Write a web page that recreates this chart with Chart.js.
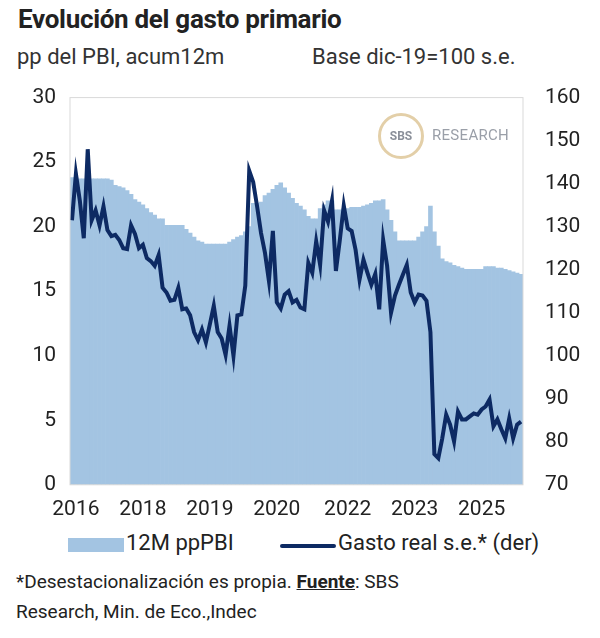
<!DOCTYPE html>
<html>
<head>
<meta charset="utf-8">
<script src="https://cdn.jsdelivr.net/npm/chart.js@4"></script>
<style>
  body { margin: 0; width: 600px; height: 638px; background: #fff; font-family: Roboto, sans-serif; color: #222; position: relative; overflow: hidden; }
  .title { position: absolute; left: 18px; top: 4px; font-size: 26px; font-weight: bold; letter-spacing: -0.3px; }
  .sub { position: absolute; top: 44px; font-size: 22px; color: #333; }
  #wrap { position: absolute; left: 0; top: 71px; width: 600px; height: 455px; }
  .legend { position: absolute; top: 530px; left: 0; width: 600px; font-size: 22px; color: #222; }
  .legend span { position: absolute; }
  .foot { position: absolute; left: 16px; top: 567px; font-size: 19px; line-height: 30px; color: #222; }
  .logo { position: absolute; left: 378px; top: 113px; width: 46px; height: 46px; border-radius: 50%; border: 3px solid #e3cfa8; box-sizing: border-box; text-align: center; line-height: 40px; font-size: 12px; font-weight: bold; color: #8a8f99; }
  .logo2 { position: absolute; left: 432px; top: 126px; font-size: 15px; color: #9a9fa8; letter-spacing: 0.3px; }
</style>
</head>
<body>
<div class="title">Evolución del gasto primario</div>
<div class="sub" style="left:17px">pp del PBI, acum12m</div>
<div class="sub" style="left:312px">Base dic-19=100 s.e.</div>
<div id="wrap"><canvas id="c"></canvas></div>
<div class="logo">SBS</div>
<div class="logo2">RESEARCH</div>
<div class="legend">
  <span style="left:68px;top:8px;width:56px;height:14px;background:#a3c4e2"></span>
  <span style="left:126px;top:0px">12M ppPBI</span>
  <span style="left:280px;top:14px;width:56px;height:4px;border-radius:2px;background:#0d2a63"></span>
  <span style="left:338px;top:0px">Gasto real s.e.* (der)</span>
</div>
<div class="foot">*Desestacionalización es propia. <b><u>Fuente</u></b>: SBS<br>Research, Min. de Eco.,Indec</div>
<script>
const gastoPBI = [
  23.8, 23.8, 23.7, 23.7, 23.7, 23.7, 23.7, 23.7, 23.7, 23.7, 23.6, 23.2, 23.1, 23.0,
  22.8, 22.5, 22.1, 21.9, 21.7, 21.4, 21.1, 20.9, 20.6, 20.6,
  20.1, 20.1, 20.1, 20.1, 20.1, 19.8, 19.5, 19.2, 18.9, 18.8,
  18.65, 18.65, 18.65, 18.65, 18.65, 18.65, 18.8, 19.0, 19.2, 19.3, 19.6, 20.0,
  21.8, 21.8, 21.9, 22.4, 22.6, 22.9, 23.2, 23.4, 23.0, 22.6, 22.2, 21.8, 21.6, 21.3,
  20.8, 20.6, 20.6, 21.4, 21.7, 22.0, 22.0,
  21.3, 21.3, 21.4, 21.4, 21.5, 21.5, 21.5, 21.6, 21.7, 21.8, 22.0, 22.0, 22.1,
  21.3, 20.5, 19.6, 18.9, 18.9, 18.9, 18.9, 18.9, 19.2, 19.6, 20.0, 21.6,
  19.6, 18.5, 17.5, 17.3, 17.2, 17.0, 16.9, 16.8,
  16.7, 16.7, 16.7, 16.7, 16.7, 16.9, 16.9, 16.9, 16.8, 16.8,
  16.7, 16.6, 16.5, 16.4, 16.3
];
const gastoReal = [
  131.5, 142.3, 136, 127.3, 148, 131.5, 133.8, 130.3, 134.7, 129.2, 127.8, 128.1, 126.9, 125,
  124.8, 130.3, 128.3, 125, 125.8, 122.7, 122, 120.9, 123.4, 115.8, 114.7, 112.8, 113, 115.8,
  110.8, 111, 109.4, 105.5, 103.6, 106.1, 103.1, 107.3, 111.6, 105.5, 104, 100.2, 107, 100,
  109.4, 109.6, 116.3, 143, 140.4, 134.7, 128.5, 123.9, 117.4, 129, 112.4, 111, 114.2, 115,
  112.4, 113, 111.2, 110.8, 121.6, 119.3, 126.6, 121.1, 133.8, 131.2, 136, 119.7, 126.9, 134.9,
  129.6, 129, 124.6, 117.7, 122.3, 119.3, 116.5, 119, 110.8, 126.9, 120.9, 110, 114, 116.5,
  118.8, 121.1, 114.7, 112.4, 114.2, 114, 112.8, 105.5, 77.1, 76.2, 80.8, 86.3, 84, 80.1,
  87, 85.2, 85.2, 85.9, 86.6, 86.3, 87.5, 88.2, 89.8, 83.6, 85.2, 82.9, 80.8, 85.4, 80.8, 84, 84.7
];
const months = gastoPBI.map((v, i) => 'm' + i);
const yearTickIdx = [1, 18, 35, 52, 70, 87, 104];
const yearTickLabels = ['2016', '2018', '2019', '2020', '2022', '2023', '2025'];

const frame = {
  id: 'frame',
  afterDatasetsDraw(chart) {
    const a = chart.chartArea, ctx = chart.ctx;
    ctx.save();
    ctx.strokeStyle = '#d9d9d9';
    ctx.lineWidth = 1;
    ctx.strokeRect(a.left, a.top, a.right - a.left, a.bottom - a.top);
    ctx.restore();
  }
};

const tickFont = { family: 'Roboto', size: 21 };
new Chart(document.getElementById('c'), {
  data: {
    labels: months,
    datasets: [
      { type: 'line', data: gastoReal, yAxisID: 'y2', borderColor: '#0d2a63', borderWidth: 4,
        pointRadius: 0, tension: 0, order: 0 },
      { type: 'bar', data: gastoPBI, yAxisID: 'y', backgroundColor: '#a3c4e2',
        barPercentage: 1, categoryPercentage: 1, order: 1 }
    ]
  },
  plugins: [frame],
  options: {
    responsive: true,
    maintainAspectRatio: false,
    animation: false,
    layout: { padding: { top: 4 } },
    plugins: { legend: { display: false }, tooltip: { enabled: false } },
    scales: {
      x: {
        grid: { display: false }, border: { display: false },
        ticks: {
          autoSkip: false, maxRotation: 0, color: '#222', font: tickFont, padding: 4,
          callback: (v, i) => { const k = yearTickIdx.indexOf(i); return k >= 0 ? yearTickLabels[k] : ''; }
        }
      },
      y: {
        position: 'left', min: 0, max: 30,
        grid: { display: false }, border: { display: false },
        ticks: { stepSize: 5, color: '#222', font: tickFont, padding: 6 },
        afterFit: s => { s.width = 70; }
      },
      y2: {
        position: 'right', min: 70, max: 160,
        grid: { display: false }, border: { display: false },
        ticks: { stepSize: 10, color: '#222', font: tickFont, padding: 14 },
        afterFit: s => { s.width = 77; }
      }
    }
  }
});
</script>
</body>
</html>
